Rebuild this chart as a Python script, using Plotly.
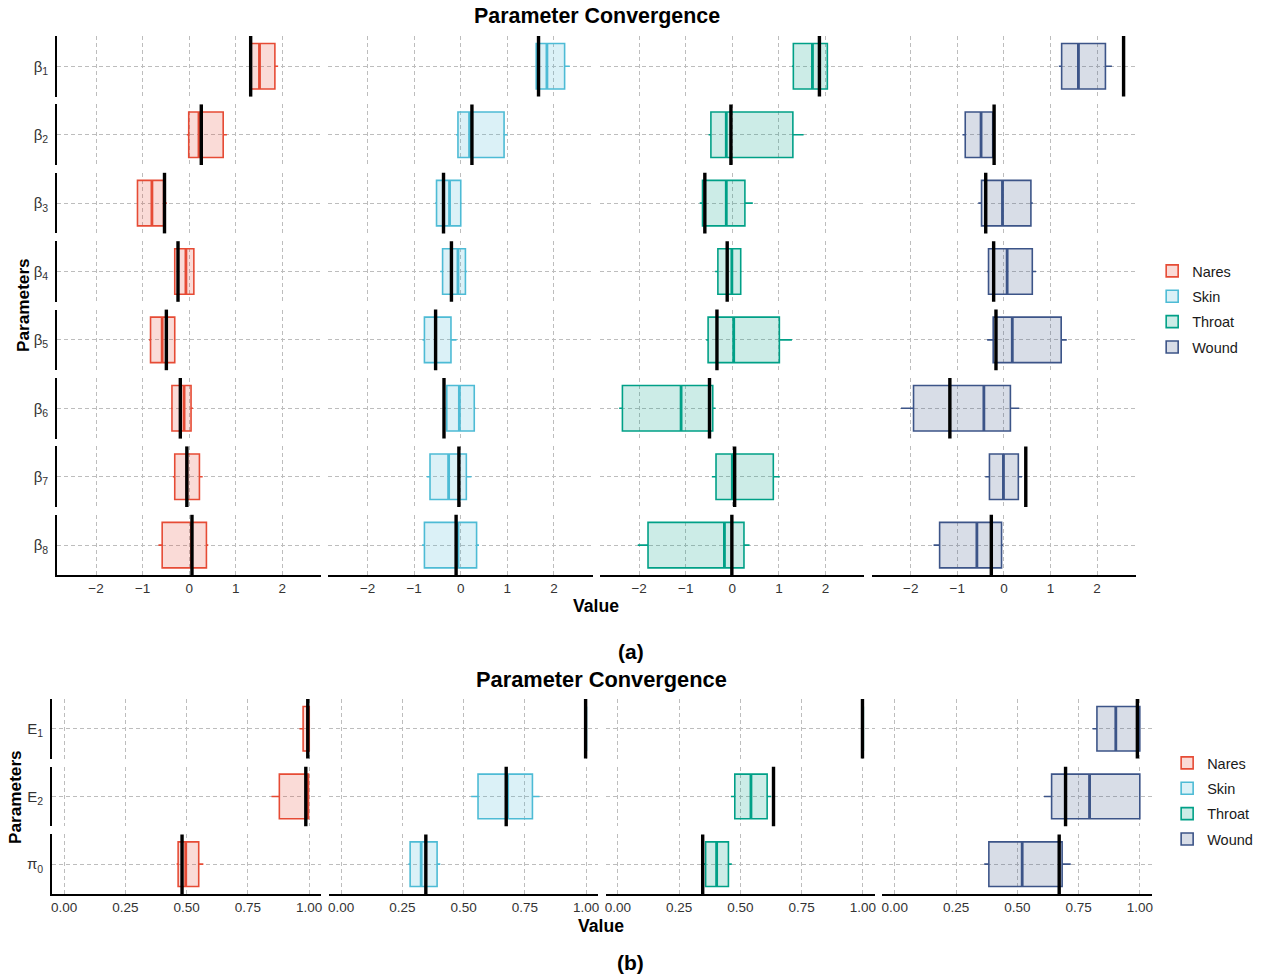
import plotly.graph_objects as go

W, H = 1261, 976

sites = ["Nares", "Skin", "Throat", "Wound"]
colors = ["#E64B35", "#4DBBD5", "#00A087", "#3C5488"]
fills = ["rgba(230,75,53,0.2)", "rgba(77,187,213,0.2)", "rgba(0,160,135,0.2)", "rgba(60,84,136,0.2)"]

beta_labels = ["β<sub>1</sub>", "β<sub>2</sub>", "β<sub>3</sub>", "β<sub>4</sub>",
               "β<sub>5</sub>", "β<sub>6</sub>", "β<sub>7</sub>", "β<sub>8</sub>"]
prob_labels = ["E<sub>1</sub>", "E<sub>2</sub>", "π<sub>0</sub>"]

# ---- panel (a): beta coefficients, per site (8 values each) ----
beta_lo = {
    "Nares":  [1.30, -0.05, -1.12, -0.33, -0.86, -0.39, -0.35, -0.66],
    "Skin":   [1.60, -0.10, -0.55, -0.44, -0.82, -0.33, -0.73, -0.83],
    "Throat": [1.28, -0.51, -0.70, -0.37, -0.56, -2.43, -0.44, -2.03],
    "Wound":  [1.18, -0.89, -0.55, -0.36, -0.36, -2.21, -0.40, -1.51],
}
beta_q1 = {
    "Nares":  [1.33, -0.01, -1.11, -0.31, -0.83, -0.37, -0.31, -0.58],
    "Skin":   [1.62, -0.06, -0.52, -0.39, -0.78, -0.30, -0.66, -0.78],
    "Throat": [1.31, -0.46, -0.64, -0.31, -0.52, -2.36, -0.35, -1.81],
    "Wound":  [1.24, -0.83, -0.48, -0.33, -0.23, -1.94, -0.31, -1.38],
}
beta_med = {
    "Nares":  [1.51, 0.21, -0.80, -0.07, -0.58, -0.11, -0.05, 0.05],
    "Skin":   [1.85, 0.19, -0.24, -0.06, -0.54, -0.03, -0.26, -0.06],
    "Throat": [1.72, -0.13, -0.13, -0.01, 0.03, -1.10, 0.00, -0.17],
    "Wound":  [1.60, -0.49, -0.03, 0.07, 0.18, -0.43, -0.01, -0.58],
}
beta_q3 = {
    "Nares":  [1.84, 0.73, -0.55, 0.10, -0.31, 0.04, 0.22, 0.37],
    "Skin":   [2.23, 0.93, 0.00, 0.10, -0.21, 0.29, 0.12, 0.34],
    "Throat": [2.04, 1.30, 0.27, 0.18, 1.01, -0.42, 0.88, 0.25],
    "Wound":  [2.18, -0.24, 0.58, 0.61, 1.23, 0.14, 0.31, -0.05],
}
beta_hi = {
    "Nares":  [1.91, 0.81, -0.48, 0.12, -0.29, 0.08, 0.29, 0.41],
    "Skin":   [2.34, 1.00, 0.02, 0.14, -0.09, 0.32, 0.23, 0.39],
    "Throat": [2.06, 1.53, 0.44, 0.20, 1.28, -0.36, 1.02, 0.37],
    "Wound":  [2.32, -0.22, 0.62, 0.69, 1.35, 0.33, 0.39, -0.02],
}
beta_true = {
    "Nares":  [1.32, 0.26, -0.53, -0.24, -0.49, -0.19, -0.05, 0.06],
    "Skin":   [1.67, 0.24, -0.37, -0.20, -0.54, -0.36, -0.04, -0.10],
    "Throat": [1.87, -0.03, -0.59, -0.11, -0.33, -0.49, 0.05, -0.01],
    "Wound":  [2.57, -0.21, -0.39, -0.22, -0.17, -1.16, 0.47, -0.27],
}

# ---- panel (b): E1, E2, pi0 ----
prob_lo = {
    "Nares":  [0.960, 0.846, 0.459],
    "Skin":   [0.995, 0.531, 0.275],
    "Throat": [0.996, 0.461, 0.350],
    "Wound":  [0.807, 0.609, 0.365],
}
prob_q1 = {
    "Nares":  [0.975, 0.878, 0.465],
    "Skin":   [0.997, 0.559, 0.282],
    "Throat": [0.998, 0.477, 0.358],
    "Wound":  [0.825, 0.640, 0.384],
}
prob_med = {
    "Nares":  [0.995, 0.990, 0.496],
    "Skin":   [0.999, 0.680, 0.327],
    "Throat": [0.999, 0.543, 0.403],
    "Wound":  [0.902, 0.795, 0.520],
}
prob_q3 = {
    "Nares":  [1.000, 0.997, 0.549],
    "Skin":   [1.000, 0.781, 0.392],
    "Throat": [1.000, 0.609, 0.451],
    "Wound":  [1.000, 1.000, 0.683],
}
prob_hi = {
    "Nares":  [1.000, 1.000, 0.568],
    "Skin":   [1.000, 0.810, 0.405],
    "Throat": [1.000, 0.626, 0.465],
    "Wound":  [1.000, 1.000, 0.718],
}
prob_true = {
    "Nares":  [0.994, 0.986, 0.481],
    "Skin":   [0.998, 0.674, 0.346],
    "Throat": [0.998, 0.635, 0.346],
    "Wound":  [0.990, 0.697, 0.671],
}

beta_ticks = [-2, -1, 0, 1, 2]
beta_ticktext = ["−2", "−1", "0", "1", "2"]
prob_ticks = [0, 0.25, 0.5, 0.75, 1.0]
prob_ticktext = ["0.00", "0.25", "0.50", "0.75", "1.00"]

FONT = "Liberation Sans, Arial, sans-serif"
TICKCOL = "#333333"
GRIDCOL = "#BDBDBD"
BOXW = 0.9

fig = go.Figure()
layout = {}
shapes = []


def xd(a, b):
    return [a / W, b / W]


def yd(top, bottom):
    return [1 - bottom / H, 1 - top / H]


k = 0
grids = [
    dict(labels=beta_labels, lo=beta_lo, q1=beta_q1, med=beta_med, q3=beta_q3, hi=beta_hi,
         tv=beta_true, xr=[-2.84, 2.83], ticks=beta_ticks, ticktext=beta_ticktext,
         x0=56, cstep=272, cw=264.5, y0=36, rstep=68.4, rh=60.6, legend="legend"),
    dict(labels=prob_labels, lo=prob_lo, q1=prob_q1, med=prob_med, q3=prob_q3, hi=prob_hi,
         tv=prob_true, xr=[-0.05, 1.05], ticks=prob_ticks, ticktext=prob_ticktext,
         x0=51, cstep=277.3, cw=270, y0=699, rstep=67.7, rh=59.5, legend="legend2"),
]

for g in grids:
    nrows = len(g["labels"])
    for c, site in enumerate(sites):
        for r in range(nrows):
            k += 1
            xa = "x" if k == 1 else f"x{k}"
            ya = "y" if k == 1 else f"y{k}"
            xkey = "xaxis" if k == 1 else f"xaxis{k}"
            ykey = "yaxis" if k == 1 else f"yaxis{k}"
            left = g["x0"] + c * g["cstep"]
            top = g["y0"] + r * g["rstep"]
            bottom_row = (r == nrows - 1)
            layout[xkey] = dict(
                domain=xd(left, left + g["cw"]), anchor=ya, range=g["xr"],
                tickvals=g["ticks"], ticktext=g["ticktext"],
                showticklabels=bottom_row, ticks="",
                showgrid=True, gridcolor=GRIDCOL, griddash="4px,3px", gridwidth=0.8,
                zeroline=False, showline=bottom_row, linecolor="black", linewidth=1.6,
                tickfont=dict(family=FONT, size=13.5, color=TICKCOL), fixedrange=True,
            )
            layout[ykey] = dict(
                domain=yd(top, top + g["rh"]), anchor=xa, range=[-0.6, 0.6],
                tickvals=[0], ticktext=[g["labels"][r]], showticklabels=(c == 0), ticks="",
                ticklabelstandoff=4,
                showgrid=True, gridcolor=GRIDCOL, griddash="4px,3px", gridwidth=0.8,
                zeroline=False, showline=(c == 0), linecolor="black", linewidth=1.6,
                tickfont=dict(family=FONT, size=15, color=TICKCOL), fixedrange=True,
            )
            fig.add_trace(go.Box(
                y=[0], q1=[g["q1"][site][r]], median=[g["med"][site][r]],
                q3=[g["q3"][site][r]], lowerfence=[g["lo"][site][r]],
                upperfence=[g["hi"][site][r]], orientation="h", width=BOXW,
                whiskerwidth=0, boxpoints=False,
                line=dict(color=colors[c], width=1.6), fillcolor=fills[c],
                name=site, legend=g["legend"], legendgroup=site,
                showlegend=(r == 0), xaxis=xa, yaxis=ya, hoverinfo="skip",
            ))
            # thicker median line
            shapes.append(dict(type="line", xref=xa, yref=ya,
                               x0=g["med"][site][r], x1=g["med"][site][r],
                               y0=-BOXW / 2, y1=BOXW / 2,
                               line=dict(color=colors[c], width=2.8)))
            # true value line
            shapes.append(dict(type="line", xref=xa, yref=f"{ya} domain",
                               x0=g["tv"][site][r], x1=g["tv"][site][r], y0=0, y1=1,
                               line=dict(color="black", width=3.4)))


def ann(text, x, y, size, bold=True, angle=0):
    return dict(text=f"<b>{text}</b>" if bold else text, x=x / W, y=1 - y / H,
                xref="paper", yref="paper", xanchor="center", yanchor="middle",
                showarrow=False, textangle=angle,
                font=dict(family=FONT, size=size, color="black"))


annotations = [
    ann("Parameter Convergence", 597, 16, 21.4),
    ann("Value", 596, 606, 17.6),
    ann("Parameters", 22, 305, 17.2, angle=-90),
    ann("(a)", 631, 651, 21),
    ann("Parameter Convergence", 601, 679, 21.8),
    ann("Value", 601, 926, 17.6),
    ann("Parameters", 14, 797, 17.2, angle=-90),
    ann("(b)", 631, 962, 21),
]

legfont = dict(family=FONT, size=14.5, color="#1a1a1a")
fig.update_layout(
    **layout,
    width=W, height=H,
    margin=dict(l=0, r=0, t=0, b=0),
    paper_bgcolor="white", plot_bgcolor="white",
    shapes=shapes, annotations=annotations,
    legend=dict(x=1153 / W, y=1 - 309 / H, xanchor="left", yanchor="middle",
                font=legfont, bgcolor="rgba(0,0,0,0)", traceorder="grouped",
                tracegroupgap=3.5),
    legend2=dict(x=1168 / W, y=1 - 801 / H, xanchor="left", yanchor="middle",
                 font=legfont, bgcolor="rgba(0,0,0,0)", traceorder="grouped",
                 tracegroupgap=3.5),
    font=dict(family=FONT),
)

fig.write_html("out.html", config={"displayModeBar": False},
               post_script="document.body.style.margin='0px';")
